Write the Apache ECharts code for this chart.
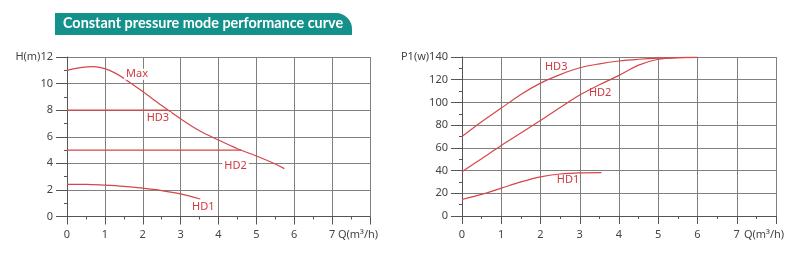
<!DOCTYPE html>
<html><head><meta charset="utf-8">
<script src="https://cdn.jsdelivr.net/npm/echarts@6/dist/echarts.min.js"></script>
<style>html,body{margin:0;padding:0;background:#fff}#c{width:800px;height:257px}</style>
</head><body><div id="c"></div>
<script>
// ---- data ----
var titleText = 'Constant pressure mode performance curve';
var xName = 'Q(m³/h)';
var headMax = [[0,11.0],[0.35,11.2],[0.7,11.28],[1.0,11.12],[1.3,10.75],[1.6,10.2],[2.0,9.4],[2.5,8.35],[3.0,7.35],[3.5,6.45],[4.0,5.75],[4.5,5.1],[5.0,4.55],[5.5,3.95],[5.74,3.6]];
var headHD3 = [[0,8],[2.65,8]];
var headHD2 = [[0,5],[4.6,5]];
var headHD1 = [[0,2.42],[0.5,2.42],[1,2.36],[1.5,2.27],[2,2.13],[2.5,1.95],[3,1.7],[3.52,1.32]];
var powHD3 = [[0,70],[0.5,83],[1,95],[1.5,107],[2,117],[2.5,124.5],[3,130.5],[3.5,134],[4,136.5],[4.5,138],[5,139],[5.5,139.5],[6,139.7]];
var powHD2 = [[0,39],[0.5,50.5],[1,62],[1.5,73],[2,84],[2.5,95.5],[3,106.5],[3.5,115.5],[4,123.8],[4.5,132.8],[5,138],[5.5,139.4],[6,139.7]];
var powHD1 = [[0,14.5],[0.5,19],[1,24.5],[1.5,30],[2,34.5],[2.5,37],[3,38],[3.55,38.2]];
var leftLabels = [{name:'Max',coord:[1.85,10.7]},{name:'HD3',coord:[2.4,7.45]},{name:'HD2',coord:[4.45,3.8]},{name:'HD1',coord:[3.6,0.7]}];
var rightLabels = [{name:'HD3',coord:[2.4,131]},{name:'HD2',coord:[3.52,108.5]},{name:'HD1',coord:[2.7,31.5]}];

var RED = '#d6454b';
var LBL = '#cf3a40';
var FONT = 'Noto Sans';

function xAxisCfg(gi){
  return {type:'value', gridIndex:gi, min:0, max:8, interval:1,
    axisLine:{show:true, lineStyle:{color:'#555', width:1}},
    axisTick:{show:true, length:8, lineStyle:{color:'#555'}},
    minorTick:{show:true, splitNumber:2, length:3, lineStyle:{color:'#555'}},
    splitLine:{show:true, lineStyle:{color:'#808080', width:1}},
    axisLabel:{color:'#444', fontSize:11, fontFamily:FONT, margin:13,
      formatter:function(v){return v===8?'{n|'+xName+'}':String(v);},
      rich:{n:{color:'#444', fontSize:11, fontFamily:FONT, padding:[0,24,0,0]}}}
  };
}
function yAxisCfg(gi, max, interval, name){
  return {type:'value', gridIndex:gi, min:0, max:max, interval:interval,
    axisLine:{show:true, lineStyle:{color:'#555', width:1}},
    axisTick:{show:true, length:11, lineStyle:{color:'#555'}},
    minorTick:{show:true, splitNumber:2, length:3, lineStyle:{color:'#555'}},
    splitLine:{show:true, lineStyle:{color:'#808080', width:1}},
    axisLabel:{color:'#444', fontSize:11, fontFamily:FONT, margin:14,
      formatter:function(v){return v===max?name+v:String(v);}}
  };
}
function lineSeries(xi, data){
  return {type:'line', xAxisIndex:xi, yAxisIndex:xi, data:data, smooth:0.35,
    showSymbol:false, symbol:'none', lineStyle:{color:RED, width:1.2}, silent:true, z:3};
}
function labelSeries(xi, labels, bg){
  return {type:'scatter', xAxisIndex:xi, yAxisIndex:xi, data:[], silent:true,
    markPoint:{symbol:'circle', symbolSize:0, silent:true,
      data:labels.map(function(l){return {coord:l.coord, name:l.name};}),
      label:{show:true, position:'inside', formatter:'{b}', color:LBL, fontSize:11, fontFamily:FONT,
        backgroundColor:bg, padding:[0,2]}}};
}

var chart = echarts.init(document.getElementById('c'), null, {renderer:'canvas'});
chart.setOption({
  animation:false,
  backgroundColor:'#fff',
  graphic:[
    {type:'rect', left:55, top:13, shape:{width:297, height:22, r:[0,16,0,0]}, style:{fill:'#14918a'}},
    {type:'text', left:63, top:16, style:{text:titleText, fill:'#fff', font:'700 14.4px Lato'}}
  ],
  grid:[
    {left:67, right:430, top:57, bottom:40.5, containLabel:false},
    {left:462, right:24, top:57, bottom:41, containLabel:false}
  ],
  xAxis:[xAxisCfg(0), xAxisCfg(1)],
  yAxis:[yAxisCfg(0,12,2,'H(m)'), yAxisCfg(1,140,20,'P1(w)')],
  series:[
    lineSeries(0, headMax), lineSeries(0, headHD3), lineSeries(0, headHD2), lineSeries(0, headHD1),
    lineSeries(1, powHD3), lineSeries(1, powHD2), lineSeries(1, powHD1),
    labelSeries(0, leftLabels, '#fff'), labelSeries(1, rightLabels, 'transparent')
  ]
});
</script></body></html>
